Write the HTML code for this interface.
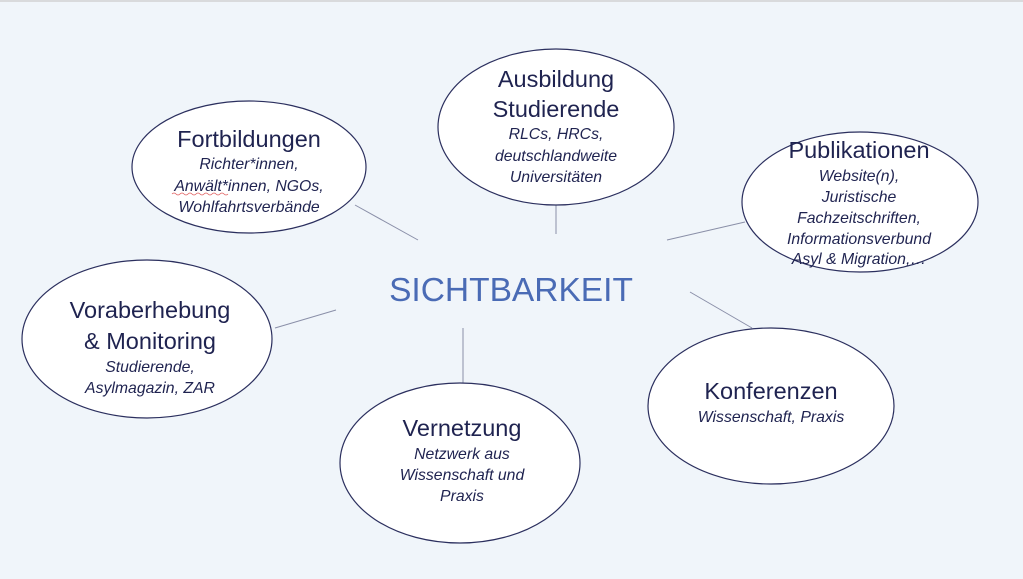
<!DOCTYPE html>
<html><head><meta charset="utf-8"><style>
html,body{margin:0;padding:0;background:#f0f5fa;}
svg{display:block;}
.t{font-family:"Liberation Sans",sans-serif;font-size:23.5px;fill:#1f2350;text-anchor:middle;}
.s{font-family:"Liberation Sans",sans-serif;font-size:15.8px;font-style:italic;fill:#1f2350;text-anchor:middle;}
</style></head><body>
<svg width="1023" height="579" viewBox="0 0 1023 579">
<rect width="1023" height="579" fill="#f0f5fa"/>
<rect width="1023" height="2" fill="#d9dadc"/>
<g stroke="#8a8fa8" stroke-width="1">
<line x1="355" y1="205" x2="418" y2="240"/>
<line x1="556" y1="197" x2="556" y2="234"/>
<line x1="667" y1="240" x2="745" y2="222"/>
<line x1="690" y1="292" x2="752" y2="328"/>
<line x1="463" y1="328" x2="463" y2="383"/>
<line x1="275" y1="328" x2="336" y2="310"/>
</g>
<g fill="#fff" stroke="#2b2f5e" stroke-width="1.2">
<ellipse cx="249" cy="167" rx="117" ry="66"/>
<ellipse cx="556" cy="127" rx="118" ry="78"/>
<ellipse cx="860" cy="202" rx="118" ry="70"/>
<ellipse cx="147" cy="339" rx="125" ry="79"/>
<ellipse cx="460" cy="463" rx="120" ry="80"/>
<ellipse cx="771" cy="406" rx="123" ry="78"/>
</g>
<text x="511" y="301" font-family="Liberation Sans,sans-serif" font-size="33.5" fill="#4a6bb5" text-anchor="middle">SICHTBARKEIT</text>

<text class="t" x="249" y="147">Fortbildungen</text>
<text class="s" x="249" y="169">Richter*innen,</text>
<text class="s" x="249" y="191">Anwält*innen, NGOs,</text>
<text class="s" x="249" y="212">Wohlfahrtsverbände</text>
<path d="M172 194 q2 -2 4 0 t4 0 t4 0 t4 0 t4 0 t4 0 t4 0 t4 0 t4 0 t4 0 t4 0 t4 0 t4 0 t4 0" stroke="#e06060" fill="none" stroke-width="0.8"/>

<text class="t" x="556" y="87">Ausbildung</text>
<text class="t" x="556" y="117">Studierende</text>
<text class="s" x="556" y="139">RLCs, HRCs,</text>
<text class="s" x="556" y="161">deutschlandweite</text>
<text class="s" x="556" y="182">Universitäten</text>

<text class="t" x="859" y="158">Publikationen</text>
<text class="s" x="859" y="181">Website(n),</text>
<text class="s" x="859" y="202">Juristische</text>
<text class="s" x="859" y="223">Fachzeitschriften,</text>
<text class="s" x="859" y="244">Informationsverbund</text>
<text class="s" x="859" y="264">Asyl &amp; Migration,…</text>

<text class="t" x="150" y="318">Voraberhebung</text>
<text class="t" x="150" y="349">&amp; Monitoring</text>
<text class="s" x="150" y="372">Studierende,</text>
<text class="s" x="150" y="393">Asylmagazin, ZAR</text>

<text class="t" x="462" y="436">Vernetzung</text>
<text class="s" x="462" y="459">Netzwerk aus</text>
<text class="s" x="462" y="480">Wissenschaft und</text>
<text class="s" x="462" y="501">Praxis</text>

<text class="t" x="771" y="399">Konferenzen</text>
<text class="s" x="771" y="422">Wissenschaft, Praxis</text>
</svg>
</body></html>
